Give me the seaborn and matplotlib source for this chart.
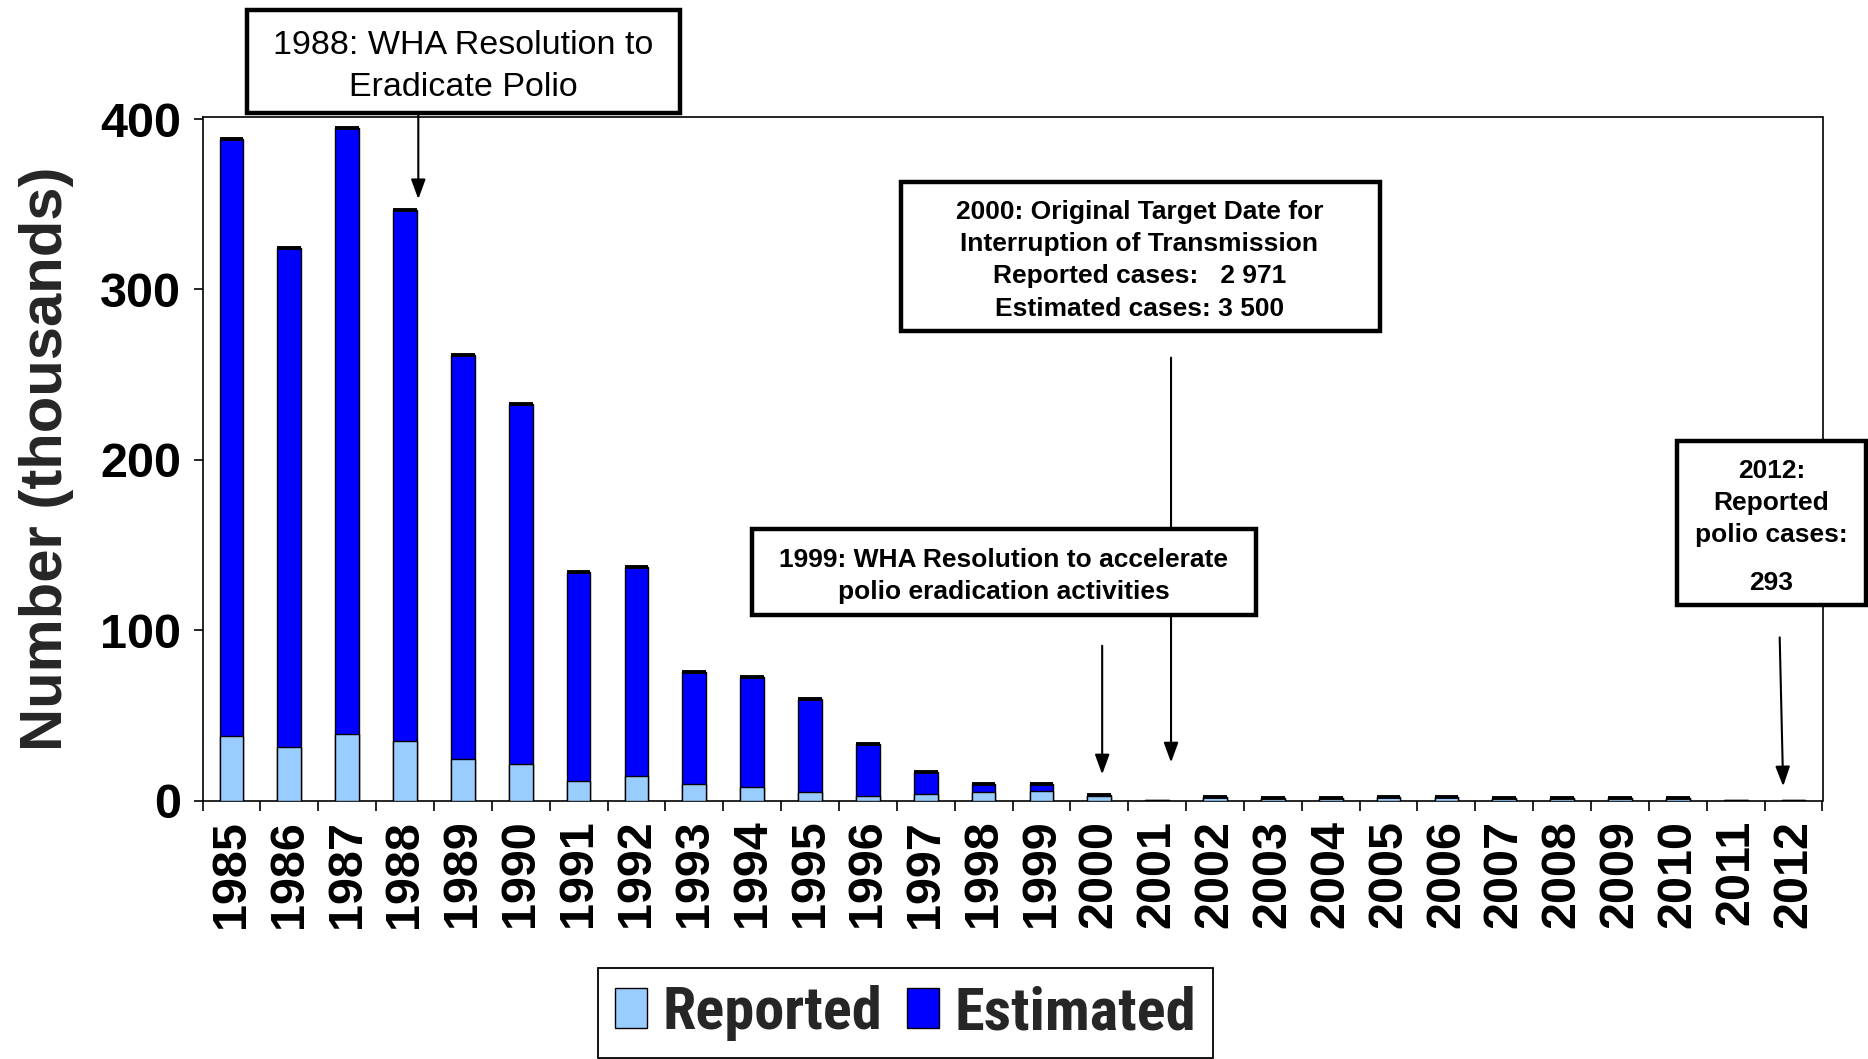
import numpy as np
import pandas as pd
import matplotlib
matplotlib.use("Agg")
import matplotlib.pyplot as plt
import seaborn as sns
from matplotlib.patches import Patch, Rectangle
from matplotlib.font_manager import FontProperties, findfont

# ---------------- data (thousands of cases) ----------------
years = ["1985", "1986", "1987", "1988", "1989", "1990", "1991", "1992", "1993", "1994",
         "1995", "1996", "1997", "1998", "1999", "2000", "2001", "2002", "2003", "2004",
         "2005", "2006", "2007", "2008", "2009", "2010", "2011", "2012"]
reported = [37.8, 31.7, 39.3, 34.8, 24.7, 21.7, 11.4, 14.3, 10.0, 8.2,
            5.1, 2.5, 3.7, 5.2, 5.5, 2.971, 0.5, 1.9, 1.6, 1.6,
            1.9, 1.9, 1.6, 1.7, 1.7, 1.6, 0.6, 0.293]
estimated = [388.5, 324.5, 394.5, 346.5, 261.5, 233.0, 134.0, 137.0, 75.5, 72.5,
             59.5, 33.0, 17.0, 9.8, 9.8, 3.5, 0.5, 1.9, 1.6, 1.6,
             1.9, 1.9, 1.6, 1.7, 1.7, 1.6, 0.6, 0.293]
yticks = [0, 100, 200, 300, 400]
series_labels = ["Reported", "Estimated"]

REP = "#99CCFF"
EST = "#0000FF"

sns.set_style("ticks")
plt.rcParams["font.family"] = ["Liberation Sans", "DejaVu Sans"]
plt.rcParams["font.weight"] = "bold"

W, H = 1868, 1059
fig = plt.figure(figsize=(W / 100, H / 100), dpi=100)
fig.patch.set_facecolor("white")
ax = fig.add_axes([202.5 / W, 1 - 800.6 / H, 1620 / W, 683.9 / H])
ax.set_facecolor("white")

df = pd.DataFrame({"year": years, "reported": reported, "estimated": estimated})

sns.barplot(data=df, x="year", y="estimated", order=years, color=EST, saturation=1,
            width=0.41, edgecolor="black", linewidth=1.0, errorbar=None, ax=ax, zorder=2)
sns.barplot(data=df, x="year", y="reported", order=years, color=REP, saturation=1,
            width=0.41, edgecolor="black", linewidth=1.0, errorbar=None, ax=ax, zorder=3)

# thick black cap on top of each (visible) bar
for bar, v in zip(ax.containers[0], estimated):
    if v > 0.7:
        ax.plot([bar.get_x(), bar.get_x() + bar.get_width()], [bar.get_height()] * 2,
                color="black", lw=2.8, solid_capstyle="butt", zorder=4)

ax.set_xlim(-0.5, len(years) - 0.5)
ax.set_ylim(0, 401.4)
ax.set_yticks(yticks)
ax.set_xlabel("")
ax.set_ylabel("Number (thousands)", fontsize=43, fontweight="bold")
ax.yaxis.set_label_coords(-0.0965, 0.5)
ax.yaxis.label.set_va("center")

ax.tick_params(axis="x", which="major", length=0, pad=13.7, labelsize=35, labelrotation=90)
ax.set_xticks(np.arange(-0.5, len(years), 1.0), minor=True)
ax.tick_params(axis="x", which="minor", length=7, width=1.2, direction="out", color="black")
ax.tick_params(axis="y", length=6.7, width=1.2, pad=8.7, labelsize=35, direction="out",
               color="black")
for lbl in ax.get_xticklabels() + ax.get_yticklabels():
    lbl.set_fontweight("bold")
    lbl.set_color("black")
for s in ax.spines.values():
    s.set_visible(True)
    s.set_linewidth(1.2)
    s.set_color("black")

# ---------------- arrows ----------------
arrow_kw = dict(arrowstyle="-|>,head_length=0.6,head_width=0.22", mutation_scale=20,
                color="black", lw=1.5, shrinkA=0, shrinkB=0)
ax.annotate("", xy=(3.23, 353), xytext=(3.23, 403.5), arrowprops=arrow_kw,
            annotation_clip=False, zorder=5)
ax.annotate("", xy=(16.24, 22.4), xytext=(16.24, 260), arrowprops=arrow_kw,
            annotation_clip=False, zorder=5)
ax.annotate("", xy=(15.05, 15.4), xytext=(15.05, 90.9), arrowprops=arrow_kw,
            annotation_clip=False, zorder=5)
ax.annotate("", xy=(26.82, 8.4), xytext=(26.76, 95.8), arrowprops=arrow_kw,
            annotation_clip=False, zorder=5)


# ---------------- annotation boxes ----------------
def box(x0, y0, x1, y1, lines, baselines, cx, size, weight, lw=3.2):
    r = Rectangle((x0 / W, 1 - y1 / H), (x1 - x0) / W, (y1 - y0) / H,
                  transform=fig.transFigure, facecolor="white", edgecolor="black",
                  lw=lw, zorder=10)
    fig.add_artist(r)
    for t, b in zip(lines, baselines):
        fig.text(cx / W, 1 - b / H, t, ha="center", va="baseline", fontsize=size,
                 fontweight=weight, color="black", zorder=11)


box(247, 9.5, 680, 113,
    ["1988: WHA Resolution to", "Eradicate Polio"], [53.9, 95.6], 463.4, 24.5, "normal")
box(900.6, 182.3, 1379.5, 331.2,
    ["2000: Original Target Date for", "Interruption of Transmission",
     "Reported cases:   2 971", "Estimated cases: 3 500"],
    [219.1, 251.2, 283.4, 315.6], 1139.5, 19, "bold")
box(751.7, 528.9, 1255.6, 614.7,
    ["1999: WHA Resolution to accelerate", "polio eradication activities"],
    [566.9, 599.1], 1003.7, 19, "bold")
box(1677, 440.8, 1866, 605.2,
    ["2012:", "Reported", "polio cases:", "293"],
    [477.6, 509.7, 541.9, 589.6], 1771.5, 19, "bold")


# ---------------- legend (narrow bold font) ----------------
def pick_narrow_font():
    for fam in ["Liberation Sans Narrow", "Arial Narrow", "Roboto Condensed",
                "Open Sans Condensed"]:
        try:
            findfont(FontProperties(family=fam, weight="bold"), fallback_to_default=False)
            return FontProperties(family=fam, weight="bold")
        except Exception:
            pass
    fp = FontProperties(family="DejaVu Sans", stretch="condensed", weight="bold")
    try:
        path = findfont(fp, fallback_to_default=False)
        if "Condensed" in path:
            return fp
    except Exception:
        pass
    return FontProperties(family="Liberation Sans", weight="bold")


leg_font = pick_narrow_font()
leg_font.set_size(43)
renderer = fig.canvas.get_renderer()
probe = fig.text(0, 0, series_labels[0], fontproperties=leg_font)
wpx = probe.get_window_extent(renderer=renderer).width
probe.remove()
leg_font.set_size(43 * 220.0 / wpx)
em = leg_font.get_size() * 100 / 72.0

handles = [Patch(facecolor=REP, edgecolor="black", lw=1.0),
           Patch(facecolor=EST, edgecolor="black", lw=1.0)]
leg = fig.legend(handles, series_labels, loc="upper center",
                 bbox_to_anchor=(905.5 / W, 1 - 968 / H), ncol=2, prop=leg_font,
                 frameon=True, fancybox=False, framealpha=1, edgecolor="black",
                 borderpad=17 / em, handlelength=32 / em, handleheight=38 / em,
                 handletextpad=15 / em, columnspacing=25 / em, borderaxespad=0)
leg.get_frame().set_linewidth(1.3)

fig.savefig("out.png", dpi=100, facecolor="white")
